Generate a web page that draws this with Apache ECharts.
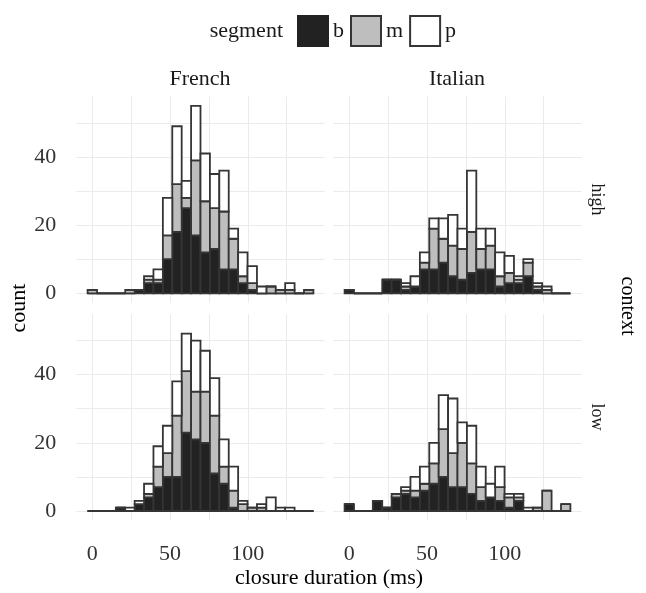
<!DOCTYPE html>
<html><head><meta charset="utf-8">
<script src="https://cdn.jsdelivr.net/npm/echarts@6/dist/echarts.min.js"></script>
<style>html,body{margin:0;padding:0;background:#fff}#c{width:646px;height:593px}</style>
</head><body><div id="c"></div>
<script>
// ---- data ----
const binCenters = [0, 6.05, 12.1, 18.15, 24.2, 30.25, 36.3, 42.35, 48.4, 54.45, 60.5, 66.55,
                    72.6, 78.65, 84.7, 90.75, 96.8, 102.85, 108.9, 114.95, 121, 127.05, 133.1, 139.15];
const binWidth = 6.05;
const segments = ['b', 'm', 'p'];
const languages = ['French', 'Italian'];
const contexts = ['high', 'low'];
const xTickLabels = [0, 50, 100];
const xGridValues = [0, 25, 50, 75, 100, 125];
const yTickLabels = [0, 20, 40];
const yGridValues = [0, 10, 20, 30, 40, 50];

const frenchHighB = [0,0,0,0,0,1,3,3,10,18,25,17,12,13,7,7,3,1,0,0,0,0,0,0];
const frenchHighM = [1,0,0,0,1,0,1,1,7,14,3,22,15,12,17,9,2,2,0,2,1,1,0,1];
const frenchHighP = [0,0,0,0,0,0,1,3,11,17,5,16,14,10,12,3,7,5,2,0,0,2,0,0];

const italianHighB = [1,0,0,0,4,4,1,2,7,7,9,5,4,6,7,7,2,3,3,5,1,0,0,0];
const italianHighM = [0,0,0,0,0,0,1,0,2,12,7,9,9,12,6,7,3,3,1,4,1,1,0,0];
const italianHighP = [0,0,0,0,0,0,1,3,3,3,6,9,6,18,6,5,7,5,1,1,1,1,0,0];

const frenchLowB = [0,0,0,1,0,2,4,7,10,10,23,21,20,11,8,1,0,0,0,0,0,0,0,0];
const frenchLowM = [0,0,0,0,0,0,1,6,7,18,18,14,15,17,5,5,2,1,1,0,0,0,0,0];
const frenchLowP = [0,0,0,0,1,1,3,6,8,10,11,15,12,11,8,7,1,0,1,4,1,1,0,0];

const italianLowB = [2,0,0,3,1,4,5,4,6,8,10,7,7,5,3,4,3,1,3,0,0,0,0,0];
const italianLowM = [0,0,0,0,0,1,1,2,2,6,14,10,13,9,4,0,4,3,1,0,1,6,0,2];
const italianLowP = [0,0,0,0,0,0,1,4,5,6,10,16,6,11,6,4,6,1,1,1,0,0,0,0];

// ---- layout / style ----
const FONT = '"Liberation Serif", "DejaVu Serif", serif';
const fills = {b: '#222222', m: '#bebebe', p: '#ffffff'};
const outline = '#353535';
const facets = [
  {lang: 0, ctx: 0, vals: [frenchHighB, frenchHighM, frenchHighP]},
  {lang: 1, ctx: 0, vals: [italianHighB, italianHighM, italianHighP]},
  {lang: 0, ctx: 1, vals: [frenchLowB, frenchLowM, frenchLowP]},
  {lang: 1, ctx: 1, vals: [italianLowB, italianLowM, italianLowP]}
];
const gridLeft = [76.3, 333.3];
const gridTop = [96.4, 314.1];
const gridW = 248.4, gridH = 206.3;

const grids = [], xAxes = [], yAxes = [], series = [];
facets.forEach(function (f, gi) {
  grids.push({left: gridLeft[f.lang], top: gridTop[f.ctx], width: gridW, height: gridH, containLabel: false});
  xAxes.push({
    gridIndex: gi, type: 'value', min: -10.29, max: 149.44,
    axisLine: {show: false},
    axisTick: {show: false, customValues: xGridValues},
    axisLabel: {show: f.ctx === 1, customValues: xTickLabels, fontFamily: FONT, fontSize: 22, color: '#333333', margin: 23},
    splitLine: {show: true, lineStyle: {color: '#ebebeb', width: 1}}
  });
  yAxes.push({
    gridIndex: gi, type: 'value', min: -2.75, max: 57.75,
    axisLine: {show: false},
    axisTick: {show: false, customValues: yGridValues},
    axisLabel: {show: f.lang === 0, customValues: yTickLabels, fontFamily: FONT, fontSize: 22, color: '#333333', margin: 20},
    splitLine: {show: true, lineStyle: {color: '#ebebeb', width: 1}}
  });
  const base = binCenters.map(function () { return 0; });
  segments.forEach(function (seg, k) {
    const arr = f.vals[k];
    const data = binCenters.map(function (c, i) {
      const y0 = base[i];
      const y1 = y0 + arr[i];
      base[i] = y1;
      return [c, y0, y1];
    });
    const fill = fills[seg];
    series.push({
      type: 'custom', name: seg, xAxisIndex: gi, yAxisIndex: gi,
      encode: {x: 0, y: [1, 2]},
      itemStyle: {color: fill, borderColor: outline, borderWidth: 2},
      z: 2 + k,
      renderItem: function (params, api) {
        const c = api.value(0), h0 = api.value(1), h1 = api.value(2);
        const a = api.coord([c - binWidth / 2, h0]);
        const b = api.coord([c + binWidth / 2, h1]);
        return {
          type: 'rect',
          shape: {x: a[0], y: b[1], width: b[0] - a[0], height: a[1] - b[1]},
          style: {fill: fill, stroke: outline, lineWidth: 1.8}
        };
      },
      data: data
    });
  });
});

function txt(text, x, y, size, color, rot) {
  return {type: 'text', x: x, y: y, rotation: rot || 0,
    style: {text: text, font: size + 'px ' + FONT, fill: color, align: 'center', verticalAlign: 'middle'}};
}

const graphics = [
  {type: 'text', x: 283, y: 31, style: {text: 'segment', font: '22px ' + FONT, fill: '#1a1a1a', align: 'right', verticalAlign: 'middle'}},
  txt(languages[0], 200, 79, 22, '#1a1a1a'),
  txt(languages[1], 457, 79, 22, '#1a1a1a'),
  txt(contexts[0], 597, 199.5, 18, '#1a1a1a', -Math.PI / 2),
  txt(contexts[1], 597, 417, 18, '#1a1a1a', -Math.PI / 2),
  txt('context', 627, 306, 20, '#000', -Math.PI / 2),
  txt('count', 19, 308, 22, '#000', Math.PI / 2),
  txt('closure duration (ms)', 329, 578, 22, '#000')
];

const chart = echarts.init(document.getElementById('c'), null, {renderer: 'canvas'});
chart.setOption({
  animation: false,
  backgroundColor: '#fff',
  legend: {
    left: 292, top: 10, orient: 'horizontal', selectedMode: false,
    itemWidth: 30, itemHeight: 30, itemGap: 6, icon: 'rect',
    textStyle: {fontFamily: FONT, fontSize: 22, color: '#1a1a1a'},
    data: segments.map(function (s) {
      return {name: s, icon: 'rect', itemStyle: {color: fills[s], borderColor: s === 'b' ? fills[s] : outline, borderWidth: 2}};
    })
  },
  grid: grids, xAxis: xAxes, yAxis: yAxes, series: series,
  graphic: graphics
});
</script></body></html>
